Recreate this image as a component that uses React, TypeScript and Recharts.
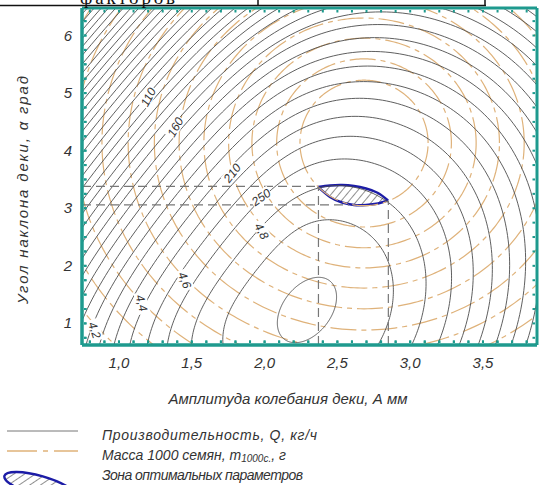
import React from 'react';
import { ComposedChart, Line, Area, XAxis, YAxis, ReferenceLine, ReferenceDot } from 'recharts';

// ---------- axes ----------
const xDomain: [number, number] = [0.746, 3.871];
const yDomain: [number, number] = [0.625, 6.478];
const xMinorTicks = [0.8, 0.9, 1.0, 1.1, 1.2, 1.3, 1.4, 1.5, 1.6, 1.7, 1.8, 1.9, 2.0, 2.1, 2.2, 2.3, 2.4, 2.5, 2.6, 2.7, 2.8, 2.9, 3.0, 3.1, 3.2, 3.3, 3.4, 3.5, 3.6, 3.7, 3.8];
const xLabelTicks = [1.0, 1.5, 2.0, 2.5, 3.0, 3.5];
const yMinorTicks = [0.75, 1, 1.25, 1.5, 1.75, 2, 2.25, 2.5, 2.75, 3, 3.25, 3.5, 3.75, 4, 4.25, 4.5, 4.75, 5, 5.25, 5.5, 5.75, 6, 6.25];
const yLabelTicks = [1, 2, 3, 4, 5, 6];

// ---------- productivity Q (black contours) ----------
const qCenterA = 2.291;
const qCenterAlpha = 1.233;
const qTiltDeg = 51.7;
const qSemiMajor = 0.672;
const qSemiMinor = 0.539;
const qUpperMinorRatio = 0.82; // contours are tighter on the upper-left side
const qScales = [1.0, 1.378, 1.673, 1.924, 2.145, 2.345, 2.53, 2.702, 2.864, 3.017, 3.162, 3.302, 3.435, 3.564,
  3.688, 3.808, 3.924, 4.037, 4.147, 4.254, 4.359, 4.461, 4.561, 4.658, 4.754, 4.848, 4.94, 5.03, 5.119, 5.206, 5.292,
  5.376, 5.459, 5.541, 5.621, 5.701, 5.779];
// innermost closed contour (maximum of Q)
const qInnerSemiMajor = 0.254;
const qInnerSemiMinor = 0.165;
const qInnerTiltDeg = 52;

// ---------- mass of 1000 seeds (orange contours) ----------
const mCenterA = 2.683;
const mCenterAlpha = 4.134;
const mRadiusA = [0.44, 0.6, 0.77, 0.93, 1.1, 1.27, 1.44, 1.62, 1.8, 1.98, 2.16, 2.35, 2.54, 2.73, 2.93];
const mRadiusAlpha = [1.09, 1.46, 1.82, 2.17, 2.52, 2.88, 3.25, 3.61, 3.98, 4.34, 4.72, 5.11, 5.49, 5.87, 6.25];

// ---------- optimal zone ----------
const zoneA = [2.367, 2.449, 2.532, 2.614, 2.697, 2.779, 2.848];
const zoneUpper = [3.37, 3.396, 3.404, 3.387, 3.343, 3.265, 3.135];
const zoneLower = [3.37, 3.196, 3.1, 3.057, 3.057, 3.083, 3.135];

const optLeftA = 2.37;
const optRightA = 2.85;
const optTopAlpha = 3.38;
const optBottomAlpha = 3.06;
const optBottomEndA = 2.58;
const optRightTopAlpha = 3.135;

// ---------- contour labels ----------
const labelTexts = ['110', '160', '210', '250', '4,8', '4,6', '4,4', '4,2'];
const labelA = [1.199, 1.385, 1.776, 1.975, 1.982, 1.453, 1.158, 0.835];
const labelAlpha = [4.933, 4.412, 3.613, 3.196, 2.605, 1.754, 1.355, 0.886];
const labelAngle = [-62, -60, -52, -35, 62, 68, 75, 72];

const ALPHA_PER_A = 2.529;

const TEAL = '#1e9a8e';
const BLACK_LINE = '#4d4d4d';
const ORANGE = '#dfb27a';
const BLUE = '#1c1ca6';
const INK = '#333';
const FONT = "'Liberation Sans', Arial, sans-serif";

type P = { x: number; y: number };
const ellipsePts = (cA: number, cAl: number, a: number, b: number, tiltDeg: number, aspect: number, upperRatio = 1): P[] => {
  const phi = (tiltDeg * Math.PI) / 180;
  const c = Math.cos(phi);
  const s = Math.sin(phi);
  const pts: P[] = [];
  const n = 300;
  for (let i = 0; i <= n; i++) {
    const t = (2 * Math.PI * i) / n;
    const st = Math.sin(t);
    const squeeze = st > 0 ? 1 - (1 - upperRatio) * st * st * st : 1;
    const u = a * Math.cos(t);
    const v = b * st * squeeze;
    const dx = u * c - v * s;
    const dy = u * s + v * c;
    pts.push({ x: cA + dx, y: cAl + dy * aspect });
  }
  return pts;
};

const qSeries = [
  ellipsePts(qCenterA, qCenterAlpha, qInnerSemiMajor, qInnerSemiMinor, qInnerTiltDeg, ALPHA_PER_A),
  ...qScales.map((k) =>
    ellipsePts(qCenterA, qCenterAlpha, qSemiMajor * k, qSemiMinor * k, qTiltDeg, ALPHA_PER_A, qUpperMinorRatio)),
];
const mSeries = mRadiusA.map((r, i) => ellipsePts(mCenterA, mCenterAlpha, r, mRadiusAlpha[i], 0, 1));
const zoneData = zoneA.map((x, i) => ({ x, lo: zoneLower[i], hi: zoneUpper[i] }));

const fmt = (v: number) => v.toFixed(1).replace('.', ',');
const isIn = (arr: number[], v: number) => arr.some((a) => Math.abs(a - v) < 1e-6);

const BottomTick = (p: any) => {
  const v = p.payload.value;
  return (
    <g>
      <rect x={p.x - 1} y={p.y - 4.5} width={2} height={2.5} fill={TEAL} />
      {isIn(xLabelTicks, v) && (
        <text x={p.x} y={p.y + 23} textAnchor="middle" fontFamily={FONT} fontStyle="italic" fontSize={15} fill={INK}>
          {fmt(v)}
        </text>
      )}
    </g>
  );
};
const LeftTick = (p: any) => {
  const v = p.payload.value;
  return (
    <g>
      <rect x={p.x + 2} y={p.y - 1} width={2.5} height={2} fill={TEAL} />
      {isIn(yLabelTicks, v) && (
        <text x={p.x - 14} y={p.y + 5} textAnchor="middle" fontFamily={FONT} fontStyle="italic" fontSize={15} fill={INK}>
          {String(v)}
        </text>
      )}
    </g>
  );
};

const ContourLabel = (props: any) => {
  const { cx, cy, text, angle } = props;
  const w = text.length * 6.6 + 2;
  return (
    <g transform={`translate(${cx},${cy}) rotate(${angle})`}>
      <rect x={-w / 2} y={-6} width={w} height={12} fill="#fff" />
      <text x={0} y={4.5} textAnchor="middle" fontFamily={FONT} fontStyle="italic" fontSize={12} fill={INK}>
        {text}
      </text>
    </g>
  );
};

const axisLine = { stroke: TEAL, strokeWidth: 3 };
const dash = { stroke: '#777', strokeWidth: 1.2, strokeDasharray: '9 5' };

export default function App() {
  return (
    <div style={{ position: 'absolute', left: 0, top: 0, width: 539, height: 485, background: '#fff', overflow: 'hidden' }}>
      <svg width={0} height={0} style={{ position: 'absolute' }}>
        <defs>
          <pattern id="hatch" width={6} height={6} patternUnits="userSpaceOnUse" patternTransform="rotate(40)">
            <line x1={0} y1={0} x2={0} y2={6} stroke="#444" strokeWidth={1.2} />
          </pattern>
        </defs>
      </svg>
      <ComposedChart width={539} height={485} margin={{ top: 8, right: 2, left: 0, bottom: 110 }}>
        <XAxis xAxisId={0} type="number" dataKey="x" domain={xDomain} allowDataOverflow ticks={xMinorTicks} interval={0}
          tick={BottomTick} tickSize={0} tickMargin={0} tickLine={false} axisLine={axisLine} height={30} />
        <YAxis yAxisId={0} type="number" domain={yDomain} allowDataOverflow ticks={yMinorTicks} interval={0}
          tick={LeftTick} tickSize={0} tickMargin={0} tickLine={false} axisLine={axisLine} width={82} />

        {mSeries.map((d, i) => (
          <Line key={'m' + i} data={d} dataKey="y" type="linear" stroke={ORANGE} strokeWidth={1.2} strokeDasharray="26 5 5 5"
            dot={false} activeDot={false} isAnimationActive={false} xAxisId={0} yAxisId={0} />
        ))}
        {qSeries.map((d, i) => (
          <Line key={'q' + i} data={d} dataKey="y" type="linear" stroke={BLACK_LINE} strokeWidth={0.9}
            dot={false} activeDot={false} isAnimationActive={false} xAxisId={0} yAxisId={0} />
        ))}

        <ReferenceLine segment={[{ x: xDomain[0], y: optTopAlpha }, { x: optLeftA, y: optTopAlpha }]} {...dash} />
        <ReferenceLine segment={[{ x: xDomain[0], y: optBottomAlpha }, { x: optBottomEndA, y: optBottomAlpha }]} {...dash} />
        <ReferenceLine segment={[{ x: optLeftA, y: yDomain[0] }, { x: optLeftA, y: optTopAlpha }]} {...dash} />
        <ReferenceLine segment={[{ x: optRightA, y: yDomain[0] }, { x: optRightA, y: optRightTopAlpha }]} {...dash} />

        <Area data={zoneData} dataKey={(d: any) => [d.lo, d.hi]} type="natural" stroke={BLUE} strokeWidth={2.4}
          fill="url(#hatch)" fillOpacity={1} dot={false} activeDot={false} isAnimationActive={false} xAxisId={0} yAxisId={0} />

        {labelTexts.map((t, i) => (
          <ReferenceDot key={'l' + i} x={labelA[i]} y={labelAlpha[i]} r={0} ifOverflow="visible"
            shape={(p: any) => <ContourLabel cx={p.cx} cy={p.cy} text={t} angle={labelAngle[i]} />} />
        ))}

        {/* frame */}
        <ReferenceLine x={xDomain[0]} stroke={TEAL} strokeWidth={3} />
        <ReferenceLine x={xDomain[1]} stroke={TEAL} strokeWidth={3} />
        <ReferenceLine y={yDomain[0]} stroke={TEAL} strokeWidth={3} />
        <ReferenceLine y={yDomain[1]} stroke={TEAL} strokeWidth={3} />
        {xMinorTicks.map((v) => (
          <ReferenceDot key={'tx' + v} x={v} y={yDomain[1]} r={0} ifOverflow="visible"
            shape={(p: any) => <rect x={p.cx - 1} y={p.cy + 2} width={2} height={2.5} fill={TEAL} />} />
        ))}
        {xMinorTicks.map((v) => (
          <ReferenceDot key={'bx' + v} x={v} y={yDomain[0]} r={0} ifOverflow="visible"
            shape={(p: any) => <rect x={p.cx - 1} y={p.cy - 4.5} width={2} height={2.5} fill={TEAL} />} />
        ))}
        {yMinorTicks.map((v) => (
          <ReferenceDot key={'ry' + v} x={xDomain[1]} y={v} r={0} ifOverflow="visible"
            shape={(p: any) => <rect x={p.cx - 4.5} y={p.cy - 1} width={2.5} height={2} fill={TEAL} />} />
        ))}
        {yMinorTicks.map((v) => (
          <ReferenceDot key={'ly' + v} x={xDomain[0]} y={v} r={0} ifOverflow="visible"
            shape={(p: any) => <rect x={p.cx + 2} y={p.cy - 1} width={2.5} height={2} fill={TEAL} />} />
        ))}
      </ComposedChart>

      <svg width={539} height={485} style={{ position: 'absolute', left: 0, top: 0, pointerEvents: 'none' }}>
        {/* table fragment at top */}
        <line x1={0} y1={5.5} x2={486} y2={5.5} stroke="#111" strokeWidth={1.5} />
        <line x1={258} y1={0} x2={258} y2={6} stroke="#111" strokeWidth={1.5} />
        <line x1={485} y1={0} x2={485} y2={6} stroke="#111" strokeWidth={1.5} />
        <text x={80} y={4} fontFamily="'Liberation Serif', serif" fontSize={19} textLength={95} fill="#111">факторов</text>

        {/* axis titles */}
        <text x={288} y={404} textAnchor="middle" fontFamily={FONT} fontStyle="italic" fontSize={15} fill={INK} textLength={239}>
          Амплитуда колебания деки, А мм
        </text>
        <text transform="translate(28,190) rotate(-90)" textAnchor="middle" fontFamily={FONT} fontStyle="italic" fontSize={15} fill={INK} textLength={228}>
          Угол наклона деки, α град
        </text>

        {/* legend */}
        <line x1={7} y1={431} x2={78} y2={431} stroke="#777" strokeWidth={1} />
        <line x1={7} y1={451} x2={78} y2={451} stroke={ORANGE} strokeWidth={1.3} strokeDasharray="30 6 5 6" />
        <ellipse cx={40} cy={486} rx={37} ry={10} transform="rotate(16 40 486)" fill="url(#hatch)" stroke={BLUE} strokeWidth={2.4} />
        <text x={102} y={440} fontFamily={FONT} fontStyle="italic" fontSize={14} fill={INK} textLength={215}>
          Производительность, Q, кг/ч
        </text>
        <text x={102} y={460} fontFamily={FONT} fontStyle="italic" fontSize={14} fill={INK}>
          Масса 1000 семян, m<tspan fontSize={10} dy={2}>1000с.</tspan><tspan dy={-2}>, г</tspan>
        </text>
        <text x={102} y={480} fontFamily={FONT} fontStyle="italic" fontSize={14} fill={INK} textLength={201}>
          Зона оптимальных параметров
        </text>
      </svg>
    </div>
  );
}
